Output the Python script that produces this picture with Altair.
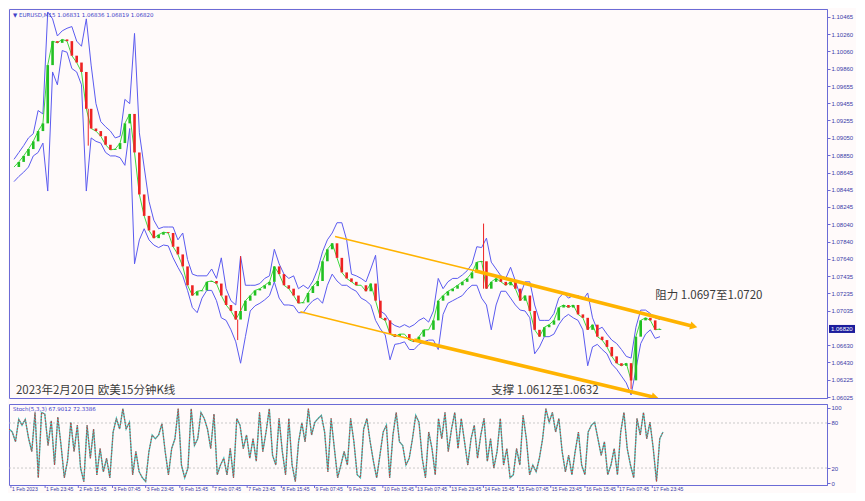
import altair as alt
import pandas as pd
import numpy as np

# ---------------- data ----------------
STEP = 5  # time index units between sampled candles
close = [1.0871, 1.0877, 1.0884, 1.0892, 1.0901, 1.0913, 1.0922, 1.0990, 1.1018, 1.1016,
         1.1020, 1.1018, 1.1001, 1.0993, 1.0982, 1.0939, 1.0916, 1.0913, 1.0907, 1.0897,
         1.0891, 1.0892, 1.0899, 1.0922, 1.0933, 1.0888, 1.0839, 1.0814, 1.0797, 1.0788,
         1.0792, 1.0795, 1.0794, 1.0778, 1.0769, 1.0755, 1.0733, 1.0721, 1.0726, 1.0727,
         1.0737, 1.0738, 1.0735, 1.0721, 1.0710, 1.0703, 1.0693, 1.0703, 1.0715, 1.0721,
         1.0727, 1.0729, 1.0733, 1.0737, 1.0755, 1.0746, 1.0733, 1.0729, 1.0721, 1.0712,
         1.0713, 1.0724, 1.0732, 1.0738, 1.0761, 1.0775, 1.0782, 1.0765, 1.0748, 1.0741,
         1.0737, 1.0733, 1.0733, 1.0726, 1.0735, 1.0715, 1.0695, 1.0692, 1.0676, 1.0673,
         1.0676, 1.0676, 1.0669, 1.0667, 1.0673, 1.0681, 1.0681, 1.0692, 1.0715, 1.0721,
         1.0726, 1.0729, 1.0733, 1.0737, 1.0741, 1.0748, 1.0760, 1.0761, 1.0729, 1.0737,
         1.0741, 1.0737, 1.0733, 1.0737, 1.0729, 1.0715, 1.0721, 1.0703, 1.0681, 1.0673,
         1.0684, 1.0687, 1.0692, 1.0707, 1.0710, 1.0707, 1.0710, 1.0699, 1.0695, 1.0681,
         1.0687, 1.0673, 1.0669, 1.0661, 1.0650, 1.0642, 1.0639, 1.0642, 1.0622, 1.0673,
         1.0692, 1.0695, 1.0692, 1.0681, 1.0682]

upper = [1.0880, 1.0888, 1.0896, 1.0905, 1.0910, 1.0937, 1.0933, 1.1052, 1.1044, 1.1024,
         1.1030, 1.1033, 1.1035, 1.1018, 1.1012, 1.1044, 1.0990, 1.0945, 1.0924, 1.0918,
         1.0913, 1.0905, 1.0907, 1.0950, 1.0945, 1.1027, 1.0911, 1.0871, 1.0831, 1.0809,
         1.0799, 1.0801, 1.0801, 1.0801, 1.0786, 1.0794, 1.0763, 1.0746, 1.0744, 1.0744,
         1.0744, 1.0752, 1.0741, 1.0765, 1.0729, 1.0715, 1.0710, 1.0767, 1.0733, 1.0733,
         1.0733, 1.0735, 1.0741, 1.0744, 1.0775, 1.0758, 1.0746, 1.0741, 1.0744, 1.0729,
         1.0733, 1.0729, 1.0738, 1.0752, 1.0772, 1.0786, 1.0794, 1.0806, 1.0806, 1.0786,
         1.0746, 1.0744, 1.0741, 1.0737, 1.0752, 1.0768, 1.0703, 1.0699, 1.0690, 1.0686,
         1.0684, 1.0687, 1.0684, 1.0687, 1.0692, 1.0695, 1.0690, 1.0703, 1.0741, 1.0729,
         1.0737, 1.0741, 1.0741, 1.0745, 1.0750, 1.0758, 1.0778, 1.0777, 1.0788, 1.0760,
         1.0752, 1.0744, 1.0741, 1.0754, 1.0738, 1.0721, 1.0737, 1.0737, 1.0710, 1.0692,
         1.0692, 1.0692, 1.0700, 1.0718, 1.0724, 1.0718, 1.0721, 1.0721, 1.0716, 1.0724,
         1.0695, 1.0681, 1.0684, 1.0676, 1.0669, 1.0665, 1.0658, 1.0650, 1.0648, 1.0684,
         1.0704, 1.0704, 1.0700, 1.0695, 1.0693]

lower = [1.0854, 1.0860, 1.0865, 1.0871, 1.0884, 1.0888, 1.0899, 1.0843, 1.0982, 1.0967,
         1.1007, 1.1005, 1.0986, 1.0982, 1.0967, 1.0843, 1.0905, 1.0901, 1.0899, 1.0888,
         1.0884, 1.0884, 1.0882, 1.0873, 1.0916, 1.0758, 1.0786, 1.0799, 1.0786, 1.0780,
         1.0777, 1.0780, 1.0779, 1.0765, 1.0754, 1.0744, 1.0727, 1.0707, 1.0701, 1.0718,
         1.0727, 1.0727, 1.0715, 1.0695, 1.0692, 1.0681, 1.0667, 1.0642, 1.0673, 1.0703,
         1.0709, 1.0712, 1.0716, 1.0721, 1.0737, 1.0718, 1.0710, 1.0710, 1.0709, 1.0701,
         1.0701, 1.0709, 1.0715, 1.0718, 1.0712, 1.0733, 1.0746, 1.0738, 1.0733, 1.0733,
         1.0729, 1.0726, 1.0718, 1.0715, 1.0710, 1.0692, 1.0682, 1.0675, 1.0646, 1.0664,
         1.0665, 1.0667, 1.0658, 1.0658, 1.0664, 1.0667, 1.0669, 1.0669, 1.0658, 1.0699,
         1.0712, 1.0715, 1.0718, 1.0721, 1.0728, 1.0733, 1.0733, 1.0718, 1.0710, 1.0681,
         1.0710, 1.0726, 1.0726, 1.0718, 1.0710, 1.0704, 1.0703, 1.0695, 1.0653, 1.0661,
         1.0673, 1.0673, 1.0676, 1.0687, 1.0695, 1.0699, 1.0695, 1.0692, 1.0681, 1.0639,
         1.0661, 1.0664, 1.0658, 1.0653, 1.0641, 1.0635, 1.0627, 1.0619, 1.0605, 1.0635,
         1.0665, 1.0676, 1.0681, 1.0671, 1.0673]

spike_t = [77, 232, 235, 487, 640]
spike_hi = [1.0939, 1.0693, 1.0767, 1.0805, 1.0642]
spike_lo = [1.0896, 1.0669, 1.0703, 1.0729, 1.0612]

K_STEP = 10 / 3
stoch_k = [72, 68, 55, 85, 77, 85, 60, 42, 94, 7,
           94, 92, 50, 83, 24, 88, 50, 7, 30, 81,
           42, 77, 20, 2, 77, 33, 72, 11, 46, 15,
           33, 7, 68, 86, 72, 99, 72, 81, 11, 42,
           15, 7, 2, 42, 64, 59, 64, 79, 42, 11,
           46, 59, 99, 24, 7, 20, 99, 50, 59, 94,
           86, 72, 46, 92, 11, 24, 33, 11, 46, 7,
           86, 77, 46, 64, 33, 59, 29, 94, 42, 68,
           99, 37, 24, 86, 42, 11, 86, 24, 2, 55,
           80, 55, 99, 64, 81, 86, 90, 68, 15, 86,
           46, 7, 24, 42, 24, 86, 55, 11, 7, 72,
           86, 55, 29, 7, 37, 68, 77, 7, 64, 94,
           55, 50, 24, 33, 59, 90, 81, 33, 7, 68,
           46, 11, 86, 59, 94, 42, 72, 94, 46, 86,
           55, 24, 59, 77, 33, 64, 86, 29, 59, 20,
           42, 86, 24, 46, 7, 11, 46, 24, 90, 59,
           11, 24, 15, 33, 59, 99, 81, 94, 68, 86,
           42, 15, 37, 11, 42, 68, 24, 11, 68, 77,
           81, 59, 37, 55, 11, 24, 46, 11, 68, 94,
           46, 24, 7, 86, 64, 94, 59, 81, 46, 2,
           59, 68]

price_ticks = [1.10465, 1.10260, 1.10060, 1.09860, 1.09655, 1.09455, 1.09255, 1.09050,
               1.08850, 1.08645, 1.08445, 1.08245, 1.08040, 1.07840, 1.07640, 1.07435,
               1.07235, 1.07035, 1.06630, 1.06430, 1.06225, 1.06025]
current_price = 1.06820

date_ticks = [2, 37, 71, 106, 140, 175, 209, 244, 279, 313, 347, 383, 417, 452, 486,
              521, 555, 590, 624, 659]
date_labels = ["1 Feb 2023", "1 Feb 23:45", "2 Feb 15:45", "3 Feb 07:45", "3 Feb 23:45",
               "6 Feb 15:45", "7 Feb 07:45", "7 Feb 23:45", "8 Feb 15:45", "9 Feb 07:45",
               "9 Feb 23:45", "10 Feb 15:45", "13 Feb 07:45", "13 Feb 23:45", "14 Feb 15:45",
               "15 Feb 07:45", "15 Feb 23:45", "16 Feb 15:45", "17 Feb 07:45", "17 Feb 23:45"]

# channel lines (time index, price)
upper_thin_t = [333, 478]
upper_thin_p = [1.0790, 1.0750]
upper_thick_t = [478, 705]
upper_thick_p = [1.0750, 1.0685]
lower_thin_t = [297, 415]
lower_thin_p = [1.0702, 1.0669]
lower_thick_t = [415, 665]
lower_thick_p = [1.0669, 1.0602]

ann_t = [665, 495, 2]
ann_p = [1.0720, 1.0609, 1.0609]
ann_text = ["阻力 1.0697至1.0720", "支撑 1.0612至1.0632", "2023年2月20日 欧美15分钟K线"]

header = "▼ EURUSD,M15  1.06831 1.06836 1.06819 1.06820"
stoch_header = "Stoch(5,3,3) 67.9012 72.3386"

# ---------------- styling ----------------
W, HM, HS = 818, 389, 81
BG = "#fffafa"
AX = "#6b6bd6"
LBL = "#3a3aa8"
BAND = "#5b5bf0"
ORANGE = "#ffb300"

xs = alt.Scale(domain=[0, 838], nice=False, zero=False)
ys = alt.Scale(domain=[1.06014, 1.10555], nice=False, zero=False)
ss = alt.Scale(domain=[-2.6, 105.3], nice=False, zero=False)

price_axis = alt.Axis(orient="right", values=price_ticks, format=".5f", labelFontSize=6,
                      labelFont="Liberation Sans", labelColor=LBL, domainColor=AX,
                      tickColor=AX, tickSize=3, labelPadding=1, grid=False, title=None,
                      labelOverlap=False, labelBound=False)
stoch_axis = alt.Axis(orient="right", values=[0, 20, 80, 100], labelFontSize=6,
                      labelFont="Liberation Sans", labelColor=LBL, domainColor=AX,
                      tickColor=AX, tickSize=3, labelPadding=1, grid=False, title=None,
                      labelOverlap=False)


def X(field="t"):
    return alt.X(f"{field}:Q", scale=xs, axis=None)


def Y(field):
    return alt.Y(f"{field}:Q", scale=ys, axis=price_axis)


df = pd.DataFrame({"t": [i * STEP for i in range(len(close))], "close": close,
                   "upper": upper, "lower": lower})
df["open"] = df["close"].shift(1).fillna(df["close"].iloc[0])
df["dir"] = np.where(df["close"] >= df["open"], "up", "down")

spk = pd.DataFrame({"t": spike_t, "hi": spike_hi, "lo": spike_lo})

ch_thin = pd.DataFrame({"t": upper_thin_t + lower_thin_t, "p": upper_thin_p + lower_thin_p,
                        "seg": ["u", "u", "l", "l"]})
ch_thick = pd.DataFrame({"t": upper_thick_t + lower_thick_t, "p": upper_thick_p + lower_thick_p,
                         "seg": ["u", "u", "l", "l"]})
heads = pd.DataFrame({"t": [upper_thick_t[-1], lower_thick_t[-1]],
                      "p": [upper_thick_p[-1], lower_thick_p[-1]]})
ann = pd.DataFrame({"t": ann_t, "p": ann_p, "s": ann_text})

band_u = alt.Chart(df).mark_line(color=BAND, strokeWidth=1, clip=True).encode(x=X(), y=Y("upper"))
band_l = alt.Chart(df).mark_line(color=BAND, strokeWidth=1, clip=True).encode(x=X(), y=Y("lower"))
ma = alt.Chart(df).mark_line(color="#2ad42a", strokeWidth=0.9, clip=True).encode(x=X(), y=Y("close"))
candles = alt.Chart(df).mark_bar(size=2.6, clip=True).encode(
    x=X(), y=Y("open"), y2="close",
    color=alt.Color("dir:N", scale=alt.Scale(domain=["up", "down"], range=["#22c022", "#ee2222"]),
                    legend=None))
wicks = alt.Chart(spk).mark_rule(color="#ee2222", strokeWidth=1, clip=True).encode(
    x=X(), y=Y("hi"), y2="lo")
thin = alt.Chart(ch_thin).mark_line(color=ORANGE, strokeWidth=1.6, clip=True).encode(
    x=X(), y=Y("p"), detail="seg:N")
thick = alt.Chart(ch_thick).mark_line(color=ORANGE, strokeWidth=3.6, clip=True).encode(
    x=X(), y=Y("p"), detail="seg:N")
arrow = alt.Chart(heads).mark_point(shape="triangle-right", filled=True, size=70, angle=14,
                                    color=ORANGE, opacity=1, clip=True).encode(x=X(), y=Y("p"))
texts = alt.Chart(ann).mark_text(align="left", baseline="middle", font="Noto Sans CJK SC",
                                 fontSize=11.5, color="#3a3a3a").encode(x=X(), y=Y("p"), text="s:N")
head_t = alt.Chart(pd.DataFrame({"s": [header]})).mark_text(
    align="left", baseline="middle", font="DejaVu Sans", fontSize=5.5, color="#4040c8"
).encode(x=alt.value(4), y=alt.value(6), text="s:N")
cur = pd.DataFrame({"p": [current_price], "s": [f"{current_price:.5f}"]})
cur_box = alt.Chart(cur).mark_tick(orient="horizontal", size=26, thickness=8, color="#1c1c9c",
                                   opacity=1).encode(x=alt.value(W + 15), y=Y("p"))
cur_txt = alt.Chart(cur).mark_text(align="left", baseline="middle", font="Liberation Sans",
                                   fontSize=6, color="white").encode(
    x=alt.value(W + 4), y=Y("p"), text="s:N")

main = alt.layer(band_u, band_l, ma, candles, wicks, thin, thick, arrow, texts, head_t,
                 cur_box, cur_txt).properties(width=W, height=HM)

# ---------------- stochastic panel ----------------
sdf = pd.DataFrame({"t": [i * K_STEP for i in range(len(stoch_k))], "k": stoch_k})
levels = pd.DataFrame({"lvl": [20, 80]})
dates = pd.DataFrame({"t": date_ticks, "s": date_labels})

grid = alt.Chart(levels).mark_rule(color="#bdbdbd", strokeDash=[2, 2], strokeWidth=0.8).encode(
    y=alt.Y("lvl:Q", scale=ss, axis=stoch_axis))
k_line = alt.Chart(sdf).mark_line(color="#3cc8c0", strokeWidth=1.4, clip=True).encode(
    x=X(), y=alt.Y("k:Q", scale=ss, axis=stoch_axis))
d_line = alt.Chart(sdf).mark_line(color="#d83030", strokeWidth=1, strokeDash=[1.5, 1.5],
                                  clip=True).encode(x=X(), y=alt.Y("k:Q", scale=ss, axis=stoch_axis))
s_head = alt.Chart(pd.DataFrame({"s": [stoch_header]})).mark_text(
    align="left", baseline="middle", font="DejaVu Sans", fontSize=5.5, color="#4040c8"
).encode(x=alt.value(4), y=alt.value(5), text="s:N")
d_ticks = alt.Chart(dates).mark_rule(color=AX, strokeWidth=1).encode(
    x=X(), y=alt.value(HS), y2=alt.value(HS + 3))
d_text = alt.Chart(dates).mark_text(align="left", baseline="top", dx=1, font="Liberation Sans",
                                    fontSize=5.1, color=LBL).encode(
    x=X(), y=alt.value(HS + 2), text="s:N")

stoch = alt.layer(grid, k_line, d_line, s_head, d_ticks, d_text).properties(width=W, height=HS)

chart = alt.vconcat(main, stoch, spacing=2).properties(
    padding={"left": 0, "top": 0, "right": 0, "bottom": 0},
    background=BG,
).configure_view(stroke=AX, strokeWidth=1, fill=BG)

chart.save("out.html", embed_options={"renderer": "svg", "actions": False})
